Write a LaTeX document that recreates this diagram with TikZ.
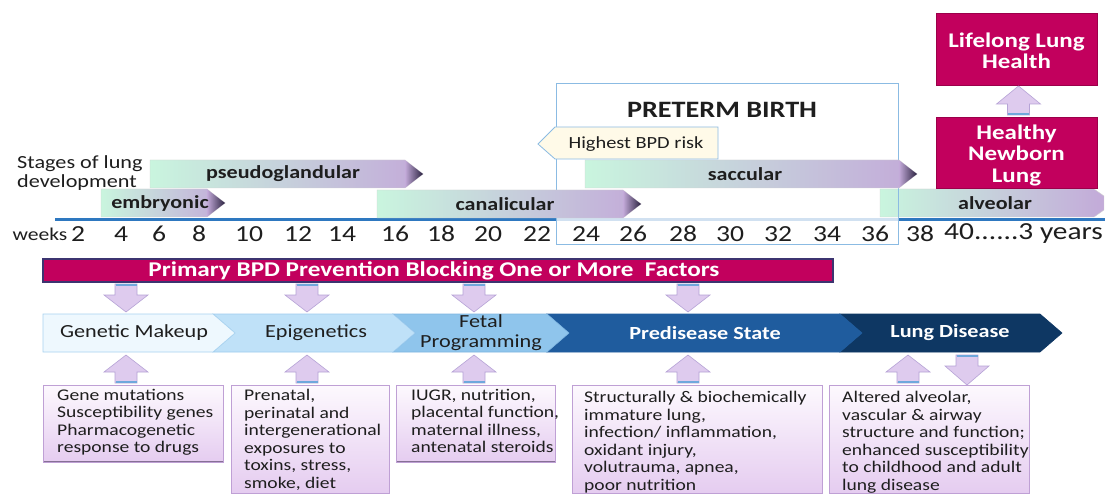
\documentclass[tikz,border=0pt]{standalone}
\usepackage{fontspec}
\setmainfont{Carlito}[FakeStretch=1.2]
\definecolor{mint}{HTML}{C9F5DE}
\definecolor{lav}{HTML}{C3AAD9}
\definecolor{tiptone}{HTML}{2B2340}
\definecolor{crim}{HTML}{C2005D}
\definecolor{barborder}{HTML}{3C3470}
\definecolor{arrfill}{HTML}{DECBEE}
\definecolor{arredge}{HTML}{B6A3D6}
\definecolor{capblue}{HTML}{6FA8DC}
\definecolor{tl}{HTML}{2E78C0}
\definecolor{pbox}{HTML}{8BBBE3}
\definecolor{cream}{HTML}{FFFAE8}
\definecolor{boxtop}{HTML}{FDF9FE}
\definecolor{boxbot}{HTML}{E5CCF0}
\definecolor{boxedge}{HTML}{BFA0D5}
\definecolor{chA}{HTML}{EEF8FE}
\definecolor{chAe}{HTML}{A9D3F0}
\definecolor{chB}{HTML}{BFE1F8}
\definecolor{chBe}{HTML}{9DCBEE}
\definecolor{chC}{HTML}{8FC5EC}
\definecolor{chCe}{HTML}{7DB4E0}
\definecolor{chD}{HTML}{1F5C9E}
\definecolor{chE}{HTML}{0E3763}
\definecolor{ink}{HTML}{1E1E1E}
\tikzset{
  wk/.style={font=\fontsize{23}{25}\selectfont, text=ink, inner sep=0pt},
  stagelbl/.style={font=\fontsize{18.4}{20}\selectfont\bfseries, text=ink, inner sep=0pt},
  chevlbl/.style={font=\fontsize{18.5}{20}\selectfont, text=ink, inner sep=0pt, align=center},
  chevlblw/.style={font=\fontsize{18.5}{20}\selectfont\bfseries, text=white, inner sep=0pt, align=center},
  boxtxt/.style={font=\fontsize{16.3}{17.5}\selectfont, text=ink, inner sep=0pt, align=left, anchor=north west},
  magbox/.style={fill=crim, draw=crim!80!black, line width=0.6pt},
  magtxt/.style={font=\fontsize{20.8}{21.5}\selectfont\bfseries, text=white, align=center, inner sep=0pt},
  arrstyle/.style={fill=arrfill, draw=arredge, line width=0.6pt},
  capline/.style={draw=capblue, line width=2.2pt},
  factbox/.style={top color=boxtop, bottom color=boxbot, draw=boxedge, line width=0.7pt},
}
\newcommand\stagearr[6]{% name, x1, x2, ytop, label, labelx
  \shade[left color=mint, right color=lav, draw=black!18, line width=0.4pt]
    (#2,#4) -- (#3,#4) -- ({#3+18},{#4+14}) -- (#3,{#4+28}) -- (#2,{#4+28}) -- cycle;
  \shade[left color=lav, right color=tiptone] (#3,{#4+0.3}) -- ({#3+18},{#4+14}) -- (#3,{#4+27.7}) -- cycle;
  \node[stagelbl] (#1) at (#6,{#4+14}) {#5};
}
\newcommand\dnarr[3]{% cx, ytop, ybot
  \filldraw[arrstyle] ({#1-11},#2) -- ({#1+11},#2) -- ({#1+11},{#2+11}) -- ({#1+22},{#2+11})
    -- (#1,#3) -- ({#1-22},{#2+11}) -- ({#1-11},{#2+11}) -- cycle;
  \draw[capline] ({#1-10.5},{#2+1.3}) -- ({#1+10.5},{#2+1.3});
}
\newcommand\uparr[3]{% cx, ytop, ybot
  \filldraw[arrstyle] ({#1-11},#3) -- ({#1+11},#3) -- ({#1+11},{#3-11}) -- ({#1+22},{#3-11})
    -- (#1,#2) -- ({#1-22},{#3-11}) -- ({#1-11},{#3-11}) -- cycle;
  \draw[capline] ({#1-10.5},{#3-1.3}) -- ({#1+10.5},{#3-1.3});
}
\newcommand\chev[5]{% x1, x2, fill, edge, notch
  \filldraw[fill=#3, draw=#4, line width=0.6pt] (#1,314) -- (#2,314) -- ({#2+22},333)
    -- (#2,352) -- (#1,352) -- ({#1+#5},333) -- cycle;
}
\begin{document}
\begin{tikzpicture}[x=1pt,y=-1pt]
\useasboundingbox[fill=white] (0,0) rectangle (1105,494);

% timeline
\draw[tl, line width=3pt] (55,220) -- (1105,220);
% preterm birth box
\filldraw[fill=white, fill opacity=0.78, draw=pbox, line width=0.9pt] (556,83) rectangle (898,244);
\node[font=\fontsize{23.5}{26}\selectfont\bfseries, text=ink, inner sep=0pt] (pb) at (722,110) {PRETERM BIRTH};

% stages label
\node[font=\fontsize{18.5}{19}\selectfont, text=ink, align=left, anchor=north west, inner sep=0pt] (stg) at (17,155) {Stages of lung\\development};

% stage arrows
\stagearr{pseudo}{150}{405}{160}{pseudoglandular}{283}
\stagearr{embry}{101}{207}{189}{embryonic}{160}
\stagearr{canal}{377}{623}{190}{canalicular}{505}
\stagearr{sacc}{585}{899}{160}{saccular}{745}
% alveolar
\shade[left color=mint, right color=lav, draw=black!18, line width=0.4pt]
  (880,189) -- (1094,189) -- (1104,196) -- (1104,210) -- (1094,217) -- (880,217) -- cycle;
\draw[pbox, line width=0.9pt] (898,189) -- (898,217);
\node[stagelbl] (alv) at (995,203) {alveolar};

% week numbers
\node[font=\fontsize{18}{20}\selectfont, text=ink, inner sep=0pt] (wkl) at (40,234) {weeks};
\foreach \x/\t in {78/2,121/4,159/6,199/8,249/10,298/12,342/14,395/16,441/18,488/20,537/22,586/24,633/26,683/28,730/30,778/32,827/34,875/36,920/38}
  \node[wk] (w\t) at (\x,234) {\t};
\node[wk, font=\fontsize{24.5}{26}\selectfont, anchor=west] (w40) at (944,234) {40......3 years};

% highest BPD risk callout
\filldraw[fill=cream, draw=pbox, line width=0.8pt] (538,144) -- (555,127) -- (718,127) -- (718,159) -- (555,159) -- cycle;
\node[font=\fontsize{17}{19}\selectfont, text=ink, inner sep=0pt] (hbr) at (636,144) {Highest BPD risk};

% magenta outcome boxes
\filldraw[magbox] (936,13) rectangle (1097,85);
\node[magtxt] (life) at (1016.5,51) {Lifelong Lung\\Health};
\filldraw[magbox] (936,117) rectangle (1097,188);
\node[magtxt] (hnl) at (1016.5,155) {Healthy\\Newborn\\Lung};
\uparr{1018.5}{86}{115}

% primary prevention bar
\filldraw[fill=crim, draw=barborder, line width=1.2pt] (43,259) rectangle (833,282);
\node[font=\fontsize{21}{22}\selectfont\bfseries, text=white, inner sep=0pt] (prim) at (434,271) {Primary BPD Prevention Blocking One or More\ \ Factors};

% down arrows
\dnarr{126}{284}{312}
\dnarr{307}{284}{312}
\dnarr{474}{284}{312}
\dnarr{688}{284}{312}

% chevrons (right to left)
\chev{840}{1040}{chE}{chE}{22}
\chev{547}{840}{chD}{chD}{22}
\chev{393}{547}{chC}{chCe}{22}
\chev{213}{393}{chB}{chBe}{22}
\chev{43}{213}{chA}{chAe}{0}
\node[chevlbl] (gen) at (134,333) {Genetic Makeup};
\node[chevlbl] (epi) at (316,333) {Epigenetics};
\node[chevlbl] (fet) at (481,333) {Fetal\\Programming};
\node[chevlblw] (pre) at (705,333) {Predisease State};
\node[chevlblw] (lung) at (950,333) {Lung Disease};

% up arrows to chevrons
\uparr{126}{355}{383}
\uparr{307}{355}{383}
\uparr{474}{355}{383}
\uparr{688}{355}{383}
\uparr{908}{355}{383}
\dnarr{967}{355}{385}

% factor boxes
\shade[factbox] (43,385) rectangle (223,462);
\draw[boxedge!70!black, line width=1.5pt] (43.5,461.5) -- (222.5,461.5);
\shade[factbox] (231,385) rectangle (389,493);
\shade[factbox] (396,385) rectangle (555,462);
\draw[boxedge!70!black, line width=1.5pt] (396.5,461.5) -- (554.5,461.5);
\shade[factbox] (572,385) rectangle (822,493);
\shade[factbox] (829,385) rectangle (1029,493);

\node[boxtxt] (t1) at (57,389) {Gene mutations\\Susceptibility genes\\Pharmacogenetic\\response to drugs};
\node[boxtxt] (t2) at (244,389) {Prenatal,\\perinatal and\\intergenerational\\exposures to\\toxins, stress,\\smoke, diet};
\node[boxtxt] (t3) at (411,389) {IUGR, nutrition,\\placental function,\\maternal illness,\\antenatal steroids};
\node[boxtxt] (t4) at (584,391) {Structurally \& biochemically\\immature lung,\\infection/ inflammation,\\oxidant injury,\\volutrauma, apnea,\\poor nutrition};
\node[boxtxt] (t5) at (842,391) {Altered alveolar,\\vascular \& airway\\structure and function;\\enhanced susceptibility\\to childhood and adult\\lung disease};
\end{tikzpicture}
\end{document}
